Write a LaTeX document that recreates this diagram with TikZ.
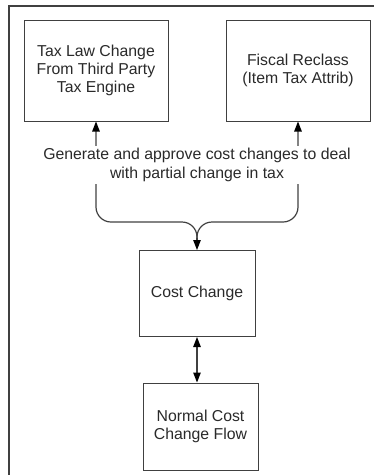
\documentclass[tikz,border=0pt]{standalone}
\usepackage{fontspec}
\setmainfont{Liberation Sans}
\usetikzlibrary{arrows.meta}
\definecolor{edge}{HTML}{404040}
\definecolor{ink}{HTML}{2A2A2A}
\begin{document}
\begin{tikzpicture}[x=1pt,y=-1pt,
  box/.style={draw=edge,line width=1pt,fill=white,align=center,inner sep=0pt,
    font=\fontsize{15.8}{18.3}\selectfont,text=ink},
  tip/.style={Triangle[length=10pt,width=7.5pt,fill=black,color=black]},
  arr/.style={draw=edge,line width=1.2pt,-{Triangle[length=10pt,width=7.5pt,color=black]}},
  darr/.style={draw=edge,line width=1.2pt,{Triangle[length=10pt,width=7.5pt,color=black]}-{Triangle[length=10pt,width=7.5pt,color=black]}}]
\useasboundingbox (0,0) rectangle (374,475);
\draw[edge,line width=1.3pt] (9,475) -- (9,6) -- (374,6);
\node[box,minimum width=144pt,minimum height=101pt] (b1) at (96,70.5) {Tax Law Change\\From Third Party\\Tax Engine};
\node[box,minimum width=144pt,minimum height=101pt] (b2) at (298,70.5) {Fiscal Reclass\\(Item Tax Attrib)};
\node[box,minimum width=116pt,minimum height=86pt] (cc) at (197,293.5) {Cost Change};
\node[box,minimum width=115pt,minimum height=87pt] (ncf) at (200.5,426.5) {Normal Cost\\Change Flow};
\coordinate (j) at (197,238);
\coordinate (h) at (197,222);
\draw[arr,rounded corners=15pt] (j) -- (h) -| (b1.south);
\draw[arr,rounded corners=15pt] (j) -- (h) -| (b2.south);
\draw[arr] (j) -- (cc.north);
\draw[darr] (cc.south) -- (cc.south |- ncf.north);
\node[fill=white,align=center,inner sep=2pt,text=ink,font=\fontsize{15.8}{18.3}\selectfont] (lab) at (197,165) {Generate and approve cost changes to deal\\with partial change in tax};
\end{tikzpicture}
\end{document}
